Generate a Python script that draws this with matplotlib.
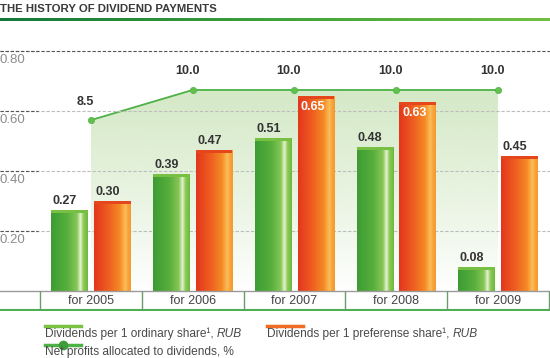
import numpy as np
import matplotlib
matplotlib.use('Agg')
import matplotlib.pyplot as plt
from matplotlib.colors import LinearSegmentedColormap
from matplotlib.patches import Rectangle
from matplotlib.lines import Line2D

# ---------------- data ----------------
categories = ['for 2005', 'for 2006', 'for 2007', 'for 2008', 'for 2009']
ordinary = [0.27, 0.39, 0.51, 0.48, 0.08]
preference = [0.30, 0.47, 0.65, 0.63, 0.45]
net_profit = [8.5, 10.0, 10.0, 10.0, 10.0]
yticks = [0.20, 0.40, 0.60, 0.80]
ytick_labels = ['0.20', '0.40', '0.60', '0.80']
title = 'THE HISTORY OF DIVIDEND PAYMENTS'
legend_labels = ['Dividends per 1 ordinary share\u00b9, ', 'Dividends per 1 preferense share\u00b9, ',
                 'Net profits allocated to dividends, %']

W, H = 550, 358
FONT = 'Liberation Sans'
plt.rcParams['font.family'] = [FONT, 'DejaVu Sans']

def hgrad(stops, n=256):
    cmap = LinearSegmentedColormap.from_list('g', stops)
    return cmap(np.linspace(0, 1, n))[None, :, :]

green_grad = hgrad([(0, '#3c9c33'), (0.45, '#58af3d'), (0.70, '#86c656'), (0.80, '#e6f3d3'),
                    (0.88, '#8ccb55'), (1, '#6cb83e')])
orange_grad = hgrad([(0, '#e2361d'), (0.40, '#ef5f20'), (0.70, '#f58a25'), (0.85, '#fbbd58'),
                     (0.93, '#f8a23a'), (1, '#f59a2e')])

fig = plt.figure(figsize=(W / 100, H / 100), dpi=100)

# title and rule
fig.text(0 / W, 1 - 9 / H, title, fontsize=8.2, fontweight='bold', color='#3a3a3a',
         ha='left', va='center')
rax = fig.add_axes([0, 1 - 21 / H, 1, 3 / H])
rax.imshow(hgrad([(0, '#11783a'), (0.5, '#3fa23a'), (1, '#72c043')]), aspect='auto',
           extent=[0, 1, 0, 1])
rax.axis('off')

# main axes
ax = fig.add_axes([0, 47 / H, 1, 281 / H])
ax2 = ax.twinx()
ylim = (-0.0667, 0.87)
xlim = (-0.892, 4.51)
k = 0.067  # percent -> primary units
ax.set_zorder(ax2.get_zorder() + 1)
ax.patch.set_visible(False)

x = np.arange(len(categories))

# net profit line with gradient area (secondary axis)
coll = ax2.fill_between(x, net_profit, 0, color='none', lw=0)
grad = np.zeros((256, 1, 4))
base = np.array(matplotlib.colors.to_rgb('#d2e8c3'))
grad[:, 0, :3] = base
grad[:, 0, 3] = np.linspace(0.95, 0.0, 256) ** 0.9
im = ax2.imshow(grad, aspect='auto', extent=[x[0], x[-1], 0, max(net_profit)], zorder=1)
im.set_clip_path(coll.get_paths()[0], ax2.transData)
ax2.plot(x, net_profit, color='#4db146', lw=1.3, zorder=3, marker='o', ms=4.5,
         mfc='#62c04c', mec='#4db146', mew=0.5)
for xi, v in zip(x, net_profit):
    ax2.annotate(f'{v:.1f}', (xi, v), xytext=(-4, 9), textcoords='offset points',
                 ha='center', va='bottom', fontsize=9, fontweight='bold', color='#333333')

# grid lines
for t, lbl in zip(yticks, ytick_labels):
    top = t == max(yticks)
    ax.axhline(t, color='#555555' if top else '#bdbdbd', lw=0.8, ls=(0, (3, 1.6)), zorder=1)
    ax.hlines(t, xlim[0], -0.52, color='#555555', lw=0.8, ls=(0, (3, 1.6)), zorder=1)
    ax.annotate(lbl, xy=(0, t), xycoords=('axes fraction', 'data'), xytext=(0, -3),
                textcoords='offset pixels', ha='left', va='top', fontsize=9.5, color='#8c8c8c')

# bars
off, bw = 0.21, 0.36
b1 = ax.bar(x - off, ordinary, bw, color='none', zorder=2)
b2 = ax.bar(x + off, preference, bw, color='none', zorder=2)
cap = 0.011
for bars, g, capc in ((b1, green_grad, '#78c043'), (b2, orange_grad, '#e5461c')):
    for rect in bars:
        x0, w, h = rect.get_x(), rect.get_width(), rect.get_height()
        ax.imshow(g, aspect='auto', extent=[x0, x0 + w, 0, h], zorder=2)
        ax.add_patch(Rectangle((x0, h - cap), w, cap, color=capc, lw=0, zorder=3))
        inside = h > 0.6
        if inside:
            ax.annotate(f'{h:.2f}', (x0, h), xytext=(2, -3.5), textcoords='offset points',
                        ha='left', va='top', fontsize=9, fontweight='bold', color='white', zorder=4)
        else:
            ax.annotate(f'{h:.2f}', (x0, h), xytext=(1, 2), textcoords='offset points',
                        ha='left', va='bottom', fontsize=9, fontweight='bold', color='#333333', zorder=4)

# category band
ax.axhline(0, color='#9a9a9a', lw=1, zorder=3)
ax.axhline(ylim[0] + 0.002, color='#4caf50', lw=1.5, zorder=3)
ax.vlines(np.arange(len(categories) + 1) - 0.5, ylim[0], 0, color='#6c9c6c', lw=1, zorder=3)
for xi, c in zip(x, categories):
    ax.text(xi, ylim[0] / 2, c, ha='center', va='center', fontsize=9, color='#444444')

ax.set_xlim(*xlim)
ax.set_ylim(*ylim)
ax2.set_ylim(ylim[0] / k, ylim[1] / k)
ax.axis('off')
ax2.axis('off')

# legend
def fx(px):
    return px / W

def fy(py):
    return 1 - py / H

fig.add_artist(Line2D([fx(45), fx(81)], [fy(326), fy(326)], color='#7cc242', lw=2.5))
fig.add_artist(Line2D([fx(267), fx(303)], [fy(326), fy(326)], color='#f26b22', lw=2.5))
fig.add_artist(Line2D([fx(45), fx(81)], [fy(345), fy(345)], color='#4db146', lw=2.5))
fig.add_artist(Line2D([fx(63)], [fy(345)], color='#4db146', marker='o', ms=6, mfc='#3f9c3a',
                      mec='#3f9c3a'))
for (px, py), lbl, italic in (((45, 334), legend_labels[0], 'RUB'),
                              ((267, 334), legend_labels[1], 'RUB'),
                              ((45, 352), legend_labels[2], None)):
    t = fig.text(fx(px), fy(py), lbl, fontsize=8.6, color='#4a4a4a', ha='left', va='center')
    if italic:
        ax.annotate(italic, xy=(1, 0), xycoords=t, ha='left', va='bottom', fontsize=8.6,
                    style='italic', color='#4a4a4a', annotation_clip=False)

fig.savefig('out.png', dpi=100)
